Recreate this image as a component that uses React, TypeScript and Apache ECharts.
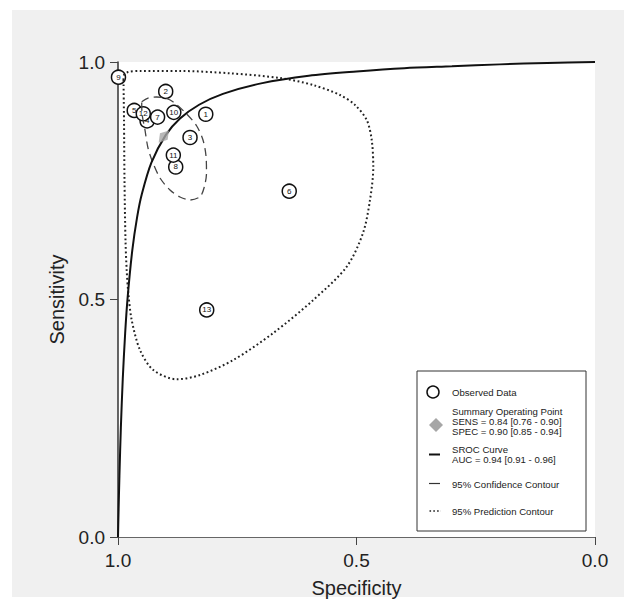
import React, { useEffect, useRef } from "react";
import * as echarts from "echarts";

// Observed studies: id, specificity, sensitivity
const studyIds = [1, 2, 3, 4, 5, 6, 7, 8, 9, 10, 11, 12, 13];
const studySpec = [0.816, 0.9, 0.849, 0.939, 0.966, 0.641, 0.917, 0.879, 0.999, 0.883, 0.884, 0.947, 0.814];
const studySens = [0.89, 0.938, 0.841, 0.876, 0.898, 0.728, 0.884, 0.779, 0.968, 0.894, 0.804, 0.891, 0.478];

// Summary operating point
const summarySpec = 0.904;
const summarySens = 0.843;

// SROC curve (spec, sens)
const srocSpec = [1.0, 0.999, 0.997, 0.994, 0.99, 0.985, 0.98, 0.97, 0.96, 0.95, 0.93, 0.9, 0.87, 0.83, 0.78, 0.7, 0.6, 0.5, 0.4, 0.3, 0.2, 0.1, 0.0];
const srocSens = [0.0, 0.047, 0.129, 0.23, 0.333, 0.429, 0.502, 0.604, 0.673, 0.722, 0.788, 0.846, 0.881, 0.91, 0.933, 0.955, 0.971, 0.98, 0.987, 0.991, 0.995, 0.998, 1.0];

// 95% confidence contour (spec, sens)
const confSpec = [0.9503, 0.9371, 0.9189, 0.9015, 0.8841, 0.856, 0.835, 0.8218, 0.8155, 0.8145, 0.8197, 0.8281, 0.8491, 0.87, 0.891, 0.9119, 0.9266, 0.9371, 0.9434, 0.9497, 0.9503];
const confSens = [0.9164, 0.9242, 0.9263, 0.9242, 0.9158, 0.8905, 0.8653, 0.8358, 0.8021, 0.7663, 0.7347, 0.7164, 0.7095, 0.7158, 0.7305, 0.7558, 0.7874, 0.8189, 0.8568, 0.8926, 0.9164];

// 95% prediction contour (spec, sens)
const predSpec = [0.9885, 0.9874, 0.9864, 0.9843, 0.9818, 0.9784, 0.9713, 0.9539, 0.926, 0.8769, 0.8281, 0.7583, 0.6744, 0.5906, 0.5205, 0.4864, 0.4717, 0.4648, 0.4681, 0.4786, 0.5031, 0.5346, 0.5912, 0.6604, 0.7652, 0.87, 0.9539, 0.979, 0.9874, 0.9885];
const predSens = [0.962, 0.878, 0.7516, 0.6253, 0.5621, 0.5137, 0.4568, 0.3937, 0.3516, 0.332, 0.3411, 0.3726, 0.4295, 0.4989, 0.5691, 0.64, 0.7095, 0.7789, 0.8358, 0.8779, 0.9095, 0.9305, 0.9516, 0.9663, 0.9762, 0.9811, 0.9811, 0.9789, 0.9726, 0.962];

const axisTicks = [0, 0.5, 1];

const legendTexts = {
  observed: "Observed Data",
  summary: ["Summary Operating Point", "SENS = 0.84 [0.76 - 0.90]", "SPEC = 0.90 [0.85 - 0.94]"],
  sroc: ["SROC Curve", "AUC = 0.94 [0.91 - 0.96]"],
  conf: "95% Confidence Contour",
  pred: "95% Prediction Contour",
};

const FONT = "'Liberation Sans', Arial, Helvetica, sans-serif";

export default function App() {
  const ref = useRef<HTMLDivElement>(null);
  useEffect(() => {
    if (!ref.current) return;
    const chart = echarts.init(ref.current, undefined, { renderer: "svg" });
    const zip = (a: number[], b: number[]) => a.map((v, i) => [v, b[i]]);
    const legTxt = (text: string, x: number, y: number) => ({
      type: "text",
      x,
      y,
      z: 101,
      style: { text, fill: "#222", font: `9.6px ${FONT}`, verticalAlign: "middle", align: "left" },
    });
    const option: any = {
      animation: false,
      backgroundColor: "#ffffff",
      grid: { left: 118, right: 29, top: 62, bottom: 75, show: true, backgroundColor: "#ffffff", borderWidth: 0 },
      xAxis: {
        type: "value",
        inverse: true,
        min: 0,
        max: 1,
        interval: 0.5,
        name: "Specificity",
        nameLocation: "middle",
        nameGap: 41,
        nameTextStyle: { fontFamily: FONT, fontSize: 20, color: "#222" },
        axisLine: { show: true, onZero: false, lineStyle: { color: "#666", width: 1 } },
        axisTick: { show: true, length: 8, lineStyle: { color: "#444" } },
        axisLabel: { fontFamily: FONT, fontSize: 19, color: "#222", margin: 14, formatter: (v: number) => v.toFixed(1) },
        splitLine: { show: false },
      },
      yAxis: {
        type: "value",
        min: 0,
        max: 1,
        interval: 0.5,
        name: "Sensitivity",
        nameLocation: "middle",
        nameGap: 51,
        nameTextStyle: { fontFamily: FONT, fontSize: 20, color: "#222" },
        axisLine: { show: true, onZero: false, lineStyle: { color: "#333", width: 1.5 } },
        axisTick: { show: true, length: 8, lineStyle: { color: "#444" } },
        axisLabel: { fontFamily: FONT, fontSize: 19, color: "#222", margin: 13, formatter: (v: number) => (axisTicks.includes(v) ? v.toFixed(1) : "") },
        splitLine: { show: false },
      },
      graphic: [
        { type: "rect", z: -10, silent: true, shape: { x: 12, y: 10, width: 612, height: 587 }, style: { fill: "#f0f0f0" } },
        { type: "rect", z: 100, shape: { x: 417, y: 371, width: 169, height: 160 }, style: { fill: "#fff", stroke: "#333", lineWidth: 1 } },
        { type: "circle", z: 101, shape: { cx: 433, cy: 392, r: 6 }, style: { fill: "#fff", stroke: "#111", lineWidth: 1.5 } },
        legTxt(legendTexts.observed, 452, 392),
        { type: "polygon", z: 101, shape: { points: [[436, 418], [443, 425], [436, 432], [429, 425]] }, style: { fill: "#a6a6a6" } },
        legTxt(legendTexts.summary[0], 452, 411.5),
        legTxt(legendTexts.summary[1], 452, 421.5),
        legTxt(legendTexts.summary[2], 452, 431.5),
        { type: "line", z: 101, shape: { x1: 429, y1: 454.5, x2: 440, y2: 454.5 }, style: { stroke: "#111", lineWidth: 2 } },
        legTxt(legendTexts.sroc[0], 452, 449.5),
        legTxt(legendTexts.sroc[1], 452, 459.5),
        { type: "line", z: 101, shape: { x1: 429, y1: 483.5, x2: 440, y2: 483.5 }, style: { stroke: "#333", lineWidth: 1.2 } },
        legTxt(legendTexts.conf, 452, 484),
        { type: "line", z: 101, shape: { x1: 429.5, y1: 511, x2: 441, y2: 511 }, style: { stroke: "#222", lineWidth: 1.6, lineDash: [1.6, 2.2] } },
        legTxt(legendTexts.pred, 452, 511),
      ],
      series: [
        {
          type: "scatter",
          data: studyIds.map((id, i) => [studySpec[i], studySens[i], id]),
          symbol: "circle",
          symbolSize: 14,
          itemStyle: { color: "#ffffff", borderColor: "#111", borderWidth: 1.5, opacity: 1 },
          label: {
            show: true,
            position: "inside",
            formatter: (p: any) => String(p.value[2]),
            fontFamily: FONT,
            fontSize: 8,
            color: "#111",
          },
          z: 2,
        },
        {
          type: "line",
          data: zip(predSpec, predSens),
          smooth: 0.3,
          showSymbol: false,
          symbol: "none",
          lineStyle: { color: "#222", width: 2, type: [1.8, 2.6] },
          z: 3,
        },
        {
          type: "line",
          data: zip(confSpec, confSens),
          smooth: 0.3,
          showSymbol: false,
          symbol: "none",
          lineStyle: { color: "#444", width: 1.3, type: [8, 5] },
          z: 3,
        },
        {
          type: "line",
          data: zip(srocSpec, srocSens),
          smooth: 0.3,
          showSymbol: false,
          symbol: "none",
          lineStyle: { color: "#111", width: 2 },
          z: 3,
        },
        {
          type: "scatter",
          data: [[summarySpec, summarySens]],
          symbol: "diamond",
          symbolSize: [10, 16],
          symbolRotate: -40,
          itemStyle: { color: "#a6a6a6" },
          z: 4,
        },
      ],
    };
    chart.setOption(option);
    return () => chart.dispose();
  }, []);
  return <div ref={ref} style={{ position: "fixed", left: 0, top: 0, width: 624, height: 612 }} />;
}
